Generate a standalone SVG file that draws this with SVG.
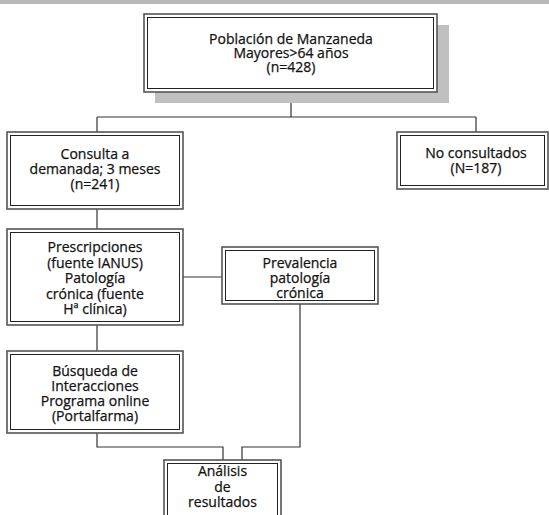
<svg xmlns="http://www.w3.org/2000/svg" width="549" height="515" viewBox="0 0 549 515">
<style>
.o{fill:#fff;stroke:#555;stroke-width:1.6}
.i{fill:none;stroke:#222;stroke-width:1}
.t{font-family:"Open Sans","Noto Sans","Liberation Sans",sans-serif;font-size:14px;fill:#111;stroke:#111;stroke-width:0.25;text-anchor:middle}
.c{fill:none;stroke:#333;stroke-width:1.2}
</style>
<rect x="0" y="0" width="549" height="4" fill="#b9b9b9"/>
<g id="connectors">
<path class="c" d="M291 92V117M97 117H476M97 117V132M476 117V132"/>
<path class="c" d="M97 209V229M97 325V351M183 277H222"/>
<path class="c" d="M97 433V447H223V460M300 304V447H242V460"/>
</g>
<g id="n_poblacion">
<rect x="155" y="25" width="294" height="78" fill="#c0c0c0"/>
<rect class="o" x="144" y="14" width="293" height="78"/>
<rect class="i" x="147.5" y="17.5" width="286" height="71"/>
<text class="t" x="291" y="44">Población de Manzaneda<tspan x="291" dy="14">Mayores&gt;64 años</tspan><tspan x="291" dy="14">(n=428)</tspan></text>
</g>
<g id="n_consulta">
<rect class="o" x="7" y="132" width="176" height="77"/>
<rect class="i" x="10.5" y="135.5" width="169" height="70"/>
<text class="t" x="95" y="159">Consulta a<tspan x="95" dy="15">demanada; 3 meses</tspan><tspan x="95" dy="15">(n=241)</tspan></text>
</g>
<g id="n_noconsultados">
<rect class="o" x="397" y="132" width="151" height="57"/>
<rect class="i" x="400.5" y="135.5" width="144" height="50"/>
<text class="t" x="476" y="158">No consultados<tspan x="476" dy="15">(N=187)</tspan></text>
</g>
<g id="n_prescripciones">
<rect class="o" x="7" y="229" width="176" height="96"/>
<rect class="i" x="10.5" y="232.5" width="169" height="89"/>
<text class="t" x="95" y="252">Prescripciones<tspan x="95" dy="15.5">(fuente IANUS)</tspan><tspan x="95" dy="15.5">Patología</tspan><tspan x="95" dy="15.5">crónica (fuente</tspan><tspan x="95" dy="15.5">Hª clínica)</tspan></text>
</g>
<g id="n_prevalencia">
<rect class="o" x="222" y="247" width="156" height="57"/>
<rect class="i" x="225.5" y="250.5" width="149" height="50"/>
<text class="t" x="300" y="268">Prevalencia<tspan x="300" dy="15">patología</tspan><tspan x="300" dy="15">crónica</tspan></text>
</g>
<g id="n_busqueda">
<rect class="o" x="7" y="351" width="176" height="82"/>
<rect class="i" x="10.5" y="354.5" width="169" height="75"/>
<text class="t" x="95" y="376">Búsqueda de<tspan x="95" dy="15">Interacciones</tspan><tspan x="95" dy="15">Programa online</tspan><tspan x="95" dy="15">(Portalfarma)</tspan></text>
</g>
<g id="n_analisis">
<rect class="o" x="164" y="460" width="117" height="64"/>
<rect class="i" x="167.5" y="463.5" width="110" height="64"/>
<text class="t" x="222.5" y="476">Análisis<tspan x="222.5" dy="15.5">de</tspan><tspan x="222.5" dy="15.5">resultados</tspan></text>
</g>
</svg>
